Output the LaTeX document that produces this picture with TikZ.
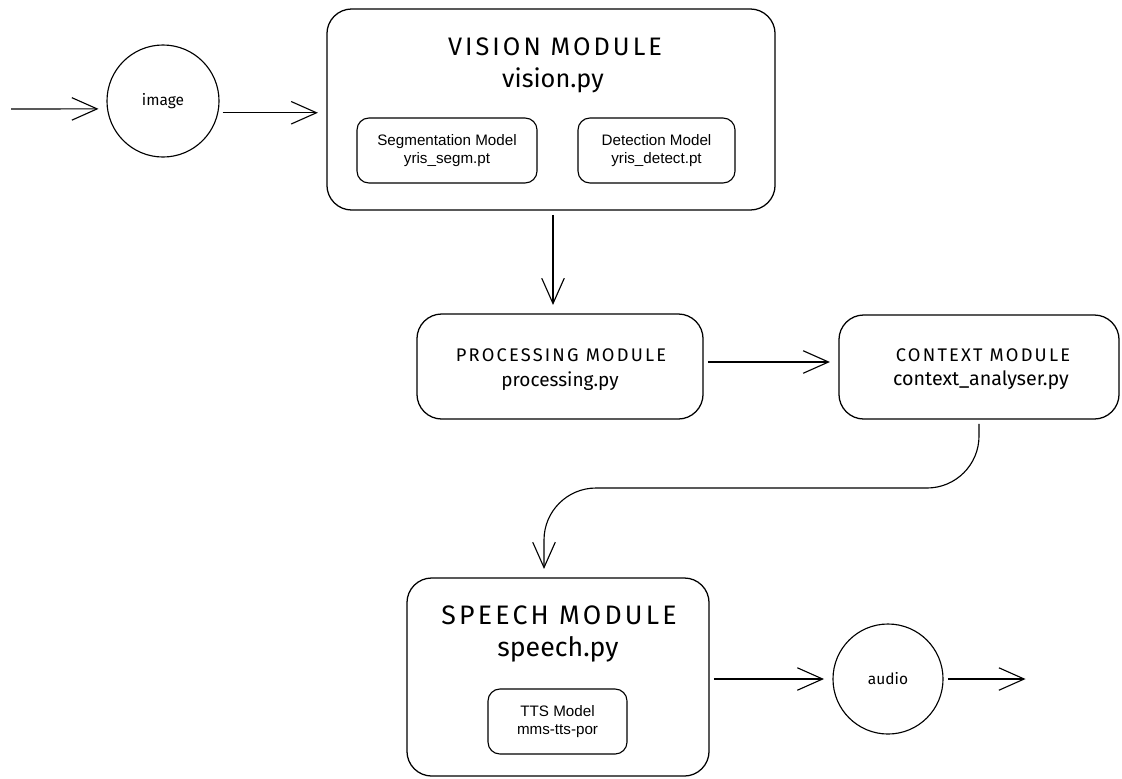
\documentclass[tikz,border=0pt]{standalone}
\usepackage{fontspec}
\setmainfont{Liberation Sans}
\newfontfamily\handfont{Fira Sans}
\newfontfamily\handcaps[LetterSpace=12]{Fira Sans}
\usetikzlibrary{arrows.meta}
\usetikzlibrary{calc}

\tikzset{
  module/.style={draw, line width=0.9pt, rounded corners=0.62cm,
    inner sep=0pt},
  submodel/.style={draw, line width=0.8pt, rounded corners=0.3cm,
    inner sep=0pt, align=center, font=\fontsize{10.8}{12.8}\selectfont},
  blob/.style={draw, circle, line width=0.8pt, inner sep=0pt,
    font=\handfont\fontsize{11}{13}\selectfont},
  flow/.style={line width=0.8pt,
    -{Straight Barb[length=18pt,width=16pt,line width=0.8pt]},
    shorten >=6pt, shorten <=3pt},
}

\begin{document}
\begin{tikzpicture}[x=0.025cm, y=-0.025cm]
	%% whole page (pixel grid of the sketch)
	\useasboundingbox (0,0) rectangle (1122,778);

	%% Free ends of the pipeline
	\coordinate (in) at (7,109);
	\coordinate (out) at (1034,679);
	\coordinate (turn) at (544,488); % where the return line comes down

	%% Input / output blobs
	\node[blob, minimum size=2.8cm] (img) at (163,101) {image};
	\node[blob, minimum size=2.75cm] (aud) at (888,679) {audio};

	%% Vision module
	\node[module, minimum width=11.2cm, minimum height=5.025cm] (vis) at (551,109.5) {};
	\node[font=\handcaps\fontsize{18}{20}\selectfont] (vistitle) at (555,47) {VISION MODULE};
	\node[font=\handfont\fontsize{18}{20}\selectfont] (visfile) at (553,80) {vision.py};
	\node[submodel, minimum width=4.5cm, minimum height=1.625cm] (seg) at (447,150.5)
	  {Segmentation Model\\yris\_segm.pt};
	\node[submodel, minimum width=3.925cm, minimum height=1.625cm] (det) at (656.5,150.5)
	  {Detection Model\\yris\_detect.pt};

	%% Processing module
	\node[module, minimum width=7.15cm, minimum height=2.625cm] (proc) at (560,366.5) {};
	\node[font=\handcaps\fontsize{13}{15}\selectfont] (proctitle) at (561,355) {PROCESSING MODULE};
	\node[font=\handfont\fontsize{13.5}{15}\selectfont] (procfile) at (560,381) {processing.py};

	%% Context module
	\node[module, minimum width=7cm, minimum height=2.6cm] (ctx) at (979,367) {};
	\node[font=\handcaps\fontsize{13}{15}\selectfont] (ctxtitle) at (983,355) {CONTEXT MODULE};
	\node[font=\handfont\fontsize{14}{16}\selectfont] (ctxfile) at (981,380) {context\_analyser.py};

	%% Speech module
	\node[module, minimum width=7.55cm, minimum height=4.95cm] (sp) at (558,677) {};
	\node[font=\handcaps\fontsize{19}{21}\selectfont] (sptitle) at (559,615) {SPEECH MODULE};
	\node[font=\handfont\fontsize{19}{21}\selectfont] (spfile) at (558,649) {speech.py};
	\node[submodel, minimum width=3.475cm, minimum height=1.625cm] (tts) at (557.5,721.5)
	  {TTS Model\\mms-tts-por};

	%% Connectors
	\draw[flow] (in) -- (img.188);
	\draw[flow] (img.-12) -- (img.-12 -| vis.west);
	\draw[flow] (vis.south -| 553,0) -- (proc.north -| 553,0);
	\draw[flow] (proc.east |- 0,362) -- (ctx.west |- 0,362);
	\draw[flow, rounded corners=1.3cm] (ctx.south) -- (ctx.south |- turn)
	  -- (turn) -- (turn |- sp.north);
	\draw[flow] (sp.east |- aud) -- (aud.west);
	\draw[flow] (aud.east) -- (out);
\end{tikzpicture}
\end{document}
